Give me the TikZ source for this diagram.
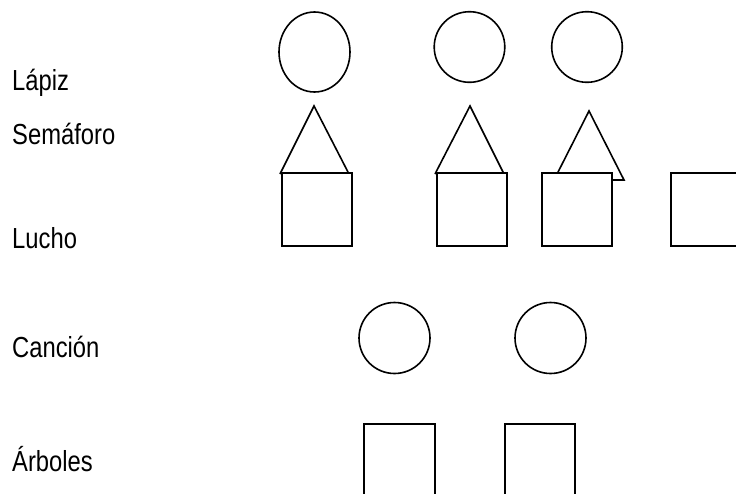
\documentclass[tikz,border=0pt]{standalone}
\usepackage{fontspec}
\setmainfont{Liberation Sans}[FakeStretch=0.82]
\begin{document}
\begin{tikzpicture}[x=1pt,y=-1pt,
  shp/.style={draw=black,line width=1.6pt,line join=miter},
  lbl/.style={anchor=base west,inner sep=0pt,font=\fontsize{29}{34}\selectfont}]
\useasboundingbox (0,0) rectangle (736,493);
\clip (0,0) rectangle (736,493);
% labels
\node[lbl] (lapiz) at (12,90) {Lápiz};
\node[lbl] (semaforo) at (12,144) {Semáforo};
\node[lbl] (lucho) at (12,248) {Lucho};
\node[lbl] (cancion) at (12,357) {Canción};
\node[lbl] (arboles) at (12,471) {Árboles};
% top row circles
\draw[shp] (314.5,52) ellipse [x radius=35.5, y radius=40];
\draw[shp] (469.5,47) circle [radius=35.3];
\draw[shp] (587,47) circle [radius=35.3];
% triangles
\draw[shp] (280,174) -- (314,106) -- (349,174);
\draw[shp] (435,174) -- (470,106) -- (504,174);
\draw[shp] (554,180) -- (589,111) -- (624,180) -- cycle;
% squares
\draw[shp,fill=white] (282,173) rectangle (352,246);
\draw[shp,fill=white] (437,173) rectangle (507,246);
\draw[shp,fill=white] (542,173) rectangle (612,246);
\draw[shp,fill=white] (671,173) rectangle (742,246);
% lower circles
\draw[shp] (394.5,338) circle [radius=35.5];
\draw[shp] (550.5,338) circle [radius=35.5];
% bottom squares
\draw[shp] (364,498) -- (364,424) -- (435,424) -- (435,498);
\draw[shp] (505,498) -- (505,424) -- (575,424) -- (575,498);
\end{tikzpicture}
\end{document}
